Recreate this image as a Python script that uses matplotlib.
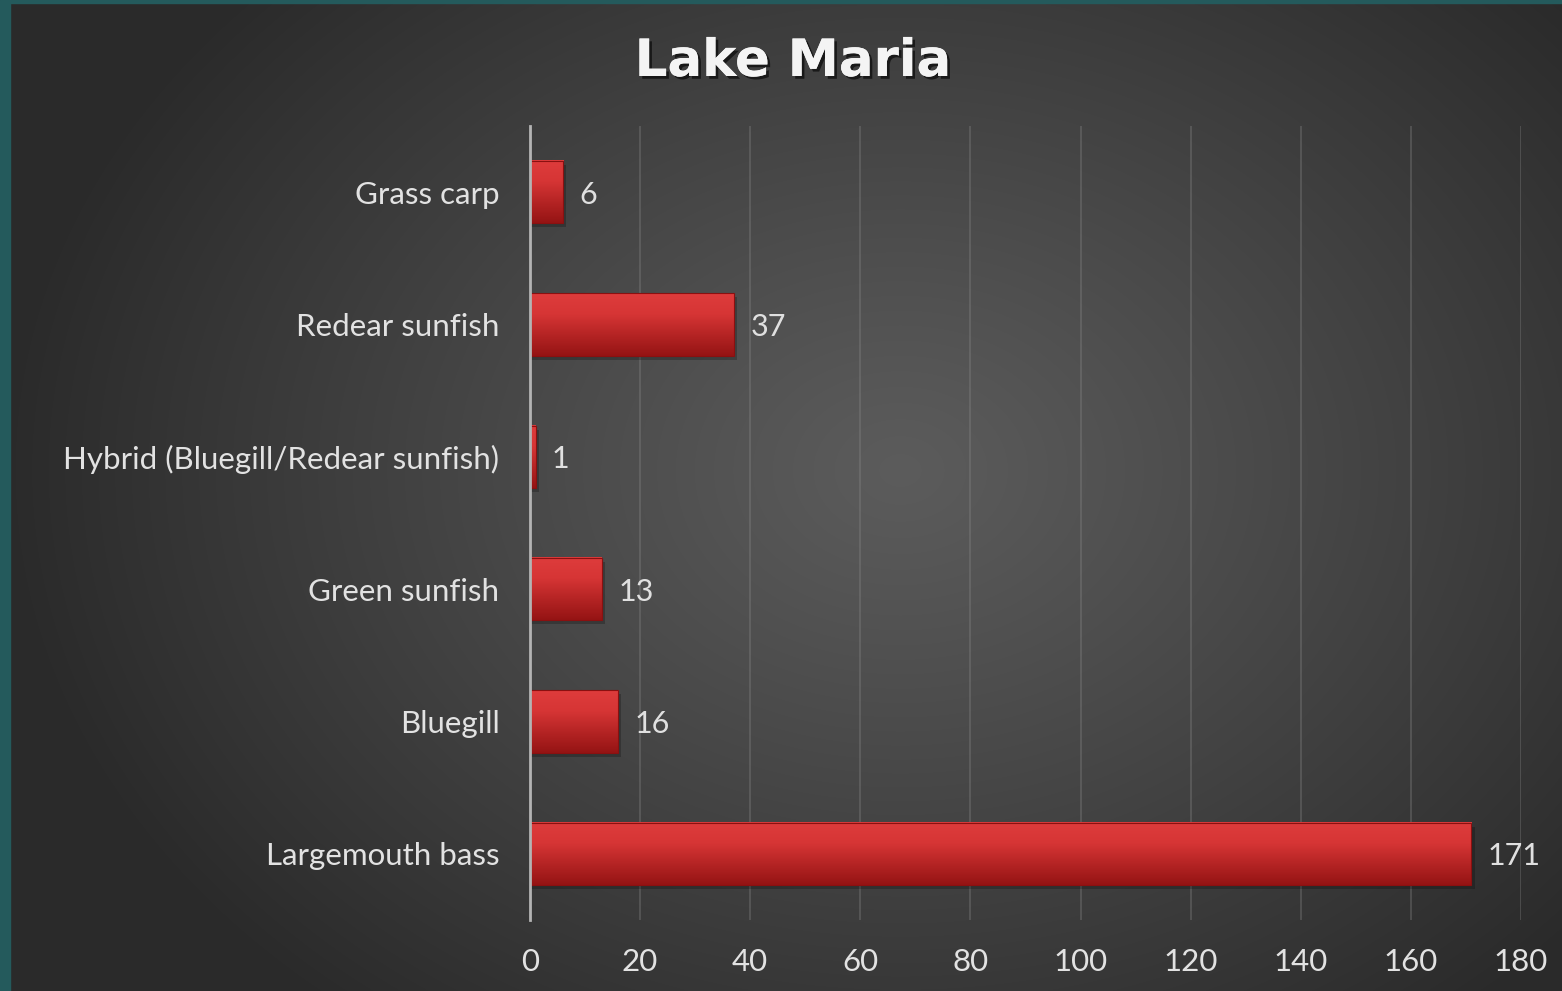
import numpy as np
import matplotlib
matplotlib.use("Agg")
import matplotlib.pyplot as plt
from matplotlib.colors import LinearSegmentedColormap
import matplotlib.patheffects as pe

# donnees
species = ["Largemouth bass", "Bluegill", "Green sunfish",
           "Hybrid (Bluegill/Redear sunfish)", "Redear sunfish", "Grass carp"]
counts = [171, 16, 13, 1, 37, 6]
x_ticks = [0, 20, 40, 60, 80, 100, 120, 140, 160, 180]
title = "Lake Maria"

plt.rcParams['font.family'] = ['Lato', 'DejaVu Sans']

W, H = 1562, 991
fig = plt.figure(figsize=(W / 100, H / 100), dpi=100)

# fond : degrade radial gris
bg = fig.add_axes([0, 0, 1, 1])
bg.set_axis_off()
yy, xx = np.mgrid[0:H, 0:W]
r = np.sqrt(((xx - 900) / 900.0) ** 2 + ((yy - 470) / 700.0) ** 2)
r = np.clip(r, 0, 1)
shade = 0.36 - 0.195 * r ** 1.1
img = np.dstack([shade, shade, shade])
bg.imshow(img, extent=(0, W, H, 0), aspect='auto')
# bande turquoise a gauche et en haut
bg.add_patch(plt.Rectangle((0, 0), 10, H, color="#245a5c"))
bg.add_patch(plt.Rectangle((0, 0), W, 2.5, color="#245a5c"))
bg.set_xlim(0, W)
bg.set_ylim(H, 0)

ax = fig.add_axes([530 / W, 1 - 920 / H, (1521 - 530) / W, (920 - 126) / H])
ax.patch.set_alpha(0)

ypos = np.arange(len(species))
bar_h = 0.47
red = LinearSegmentedColormap.from_list("rouge", ["#de3c3c", "#d63535", "#b52424", "#951414"])
grad = np.linspace(0, 1, 100).reshape(-1, 1)

for y, v in zip(ypos, counts):
    # ombre
    ax.add_patch(plt.Rectangle((0, y - bar_h / 2 - 0.03), v + 0.6, bar_h,
                               color="black", alpha=0.22, zorder=2, lw=0))
    ax.imshow(grad, cmap=red, extent=(0, v, y - bar_h / 2, y + bar_h / 2),
              aspect='auto', origin='upper', zorder=3)
    ax.add_patch(plt.Rectangle((0, y - bar_h / 2), v, bar_h, fill=False,
                               ec="#8a1010", lw=0.8, zorder=4))
    ax.text(v + 3.0, y - 0.02, str(v), color="#e0e0e0", fontsize=22,
            va='center', ha='left', zorder=5)

ax.set_xlim(0, 180)
ax.set_ylim(-0.5, len(species) - 0.5)
ax.set_xticks(x_ticks)
ax.set_yticks(ypos)
ax.set_yticklabels(species)
ax.xaxis.grid(True, color="#8a8a8a", alpha=0.38, lw=1.2, zorder=0)
ax.set_axisbelow(True)
for s in ["top", "right", "bottom"]:
    ax.spines[s].set_visible(False)
ax.spines["left"].set_color("#b4b4b4")
ax.spines["left"].set_linewidth(2)
ax.spines["left"].set_zorder(6)
ax.tick_params(axis='both', length=0, colors="#e2e2e2", labelsize=22.5)
ax.tick_params(axis='x', pad=20)
ax.tick_params(axis='y', pad=22)

fig.text(793 / W, 1 - 62 / H, title, ha='center', va='center', fontsize=37,
         fontweight='bold', color="#f4f4f4", family=['DejaVu Sans'],
         path_effects=[pe.withSimplePatchShadow(offset=(2, -2), shadow_rgbFace="black", alpha=0.6),
                       pe.Normal()])

fig.savefig("out.png", dpi=100)
